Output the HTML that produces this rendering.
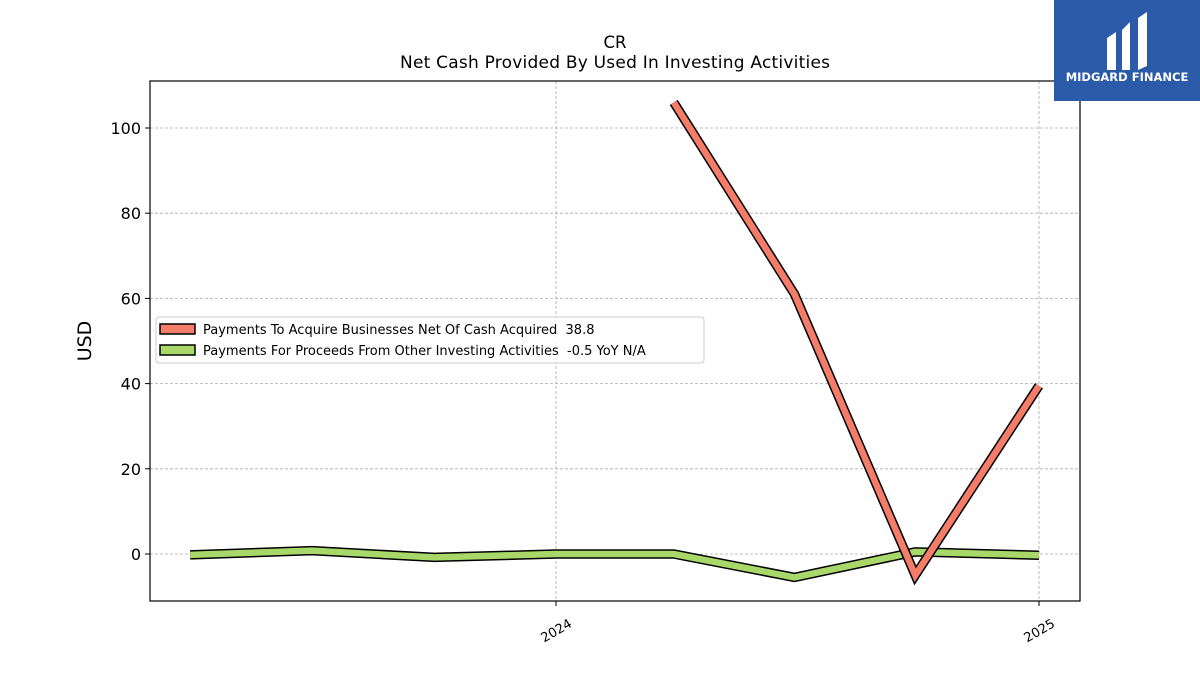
<!DOCTYPE html>
<html><head><meta charset="utf-8"><style>
body{margin:0;background:#fff;width:1200px;height:675px;overflow:hidden;font-family:"Liberation Sans","DejaVu Sans",sans-serif}
</style></head><body>
<svg id="chart" width="1200" height="675" xmlns="http://www.w3.org/2000/svg" font-family="'DejaVu Sans','Liberation Sans',sans-serif">
<text x="615" y="48" text-anchor="middle" font-size="16.5">CR</text>
<text x="615" y="68" text-anchor="middle" font-size="17" textLength="430">Net Cash Provided By Used In Investing Activities</text>
<g id="grid"></g>
<g id="series"></g>
<rect x="150" y="81" width="930" height="520" fill="none" stroke="#000" stroke-width="1.2"/>
<g id="axes"></g>
<text transform="translate(91,341) rotate(-90)" text-anchor="middle" font-size="19">USD</text>
<g>
<rect x="156" y="317" width="548" height="46" rx="3" fill="#fff" fill-opacity="0.85" stroke="#ccc"/>
<rect x="160" y="324" width="35" height="10" fill="#f47c68" stroke="#000" stroke-width="1.5"/>
<text x="203" y="334" font-size="13">Payments To Acquire Businesses Net Of Cash Acquired&#160; 38.8</text>
<rect x="160" y="345" width="35" height="10" fill="#a8d86a" stroke="#000" stroke-width="1.5"/>
<text x="203" y="355" font-size="13">Payments For Proceeds From Other Investing Activities&#160; -0.5 YoY N/A</text>
</g>
<g>
<rect x="1054" y="0" width="146" height="101" fill="#2b5aa8"/>
<path d="M1107 38 L1116 32 L1116 70 L1107 70 Z M1122 30 L1130 22 L1130 70 L1122 70 Z M1138 18 L1147 12 L1147 66 L1138 70 Z" fill="#fff"/>
<text x="1127" y="81" text-anchor="middle" font-size="11.5" font-weight="bold" fill="#fff">MIDGARD FINANCE</text>
</g>
</svg>
<script>
const quarters=[0,1,2,3,4,5,6,7];
const acquireValues=[null,null,null,null,106,61,-5,39.5];
const otherValues=[-0.2,0.8,-0.8,0,0,-5.5,0.5,-0.3];
const yTicks=[0,20,40,60,80,100];
const xTickLabels=["2024","2025"];
const xTickIdx=[3,7];
const NS="http://www.w3.org/2000/svg";
const xs=i=>556+(i-3)*120.75-(i<3?(3-i)*1.2:0)-(i>3&&i<7?3:0);
const ys=v=>554-v*4.26;
function mk(t,a,p){const e=document.createElementNS(NS,t);for(const k in a)e.setAttribute(k,a[k]);p.appendChild(e);return e;}
const grid=document.getElementById('grid'),axes=document.getElementById('axes'),ser=document.getElementById('series');
yTicks.forEach(v=>{
 const l=mk('line',{x1:150,x2:1080,y1:ys(v),y2:ys(v),stroke:'#aaa','stroke-dasharray':'3,2','stroke-width':0.8},grid);
 
 
 mk('line',{x1:145,x2:150,y1:ys(v),y2:ys(v),stroke:'#000'},axes);
 const t=mk('text',{x:141,y:ys(v)+6,'text-anchor':'end','font-size':16},axes);t.textContent=v;
 
 
});
xTickIdx.forEach((q,k)=>{
 const x=556+(q-3)*120.75;
 const l=mk('line',{x1:x,x2:x,y1:81,y2:601,stroke:'#aaa','stroke-dasharray':'3,2','stroke-width':0.8},grid);
 
 
 mk('line',{x1:x,x2:x,y1:601,y2:606,stroke:'#000'},axes);
 const t=mk('text',{x:x,y:635,'text-anchor':'middle','font-size':13,transform:`rotate(-30 ${x} 630)`},axes);t.textContent=xTickLabels[k];
 
 
});
function drawLine(vals,color,name){
 const pts=[];vals.forEach((v,i)=>{if(v!==null)pts.push(xs(quarters[i])+','+ys(v));});
 const d=pts.join(' ');
 const o=mk('polyline',{points:d,fill:'none',stroke:'#000','stroke-width':9.5},ser);
 
 
 const p=mk('polyline',{points:d,fill:'none',stroke:color,'stroke-width':6.5},ser);
 
 
}
drawLine(otherValues,'#a8d86a','line-other-investing');
drawLine(acquireValues,'#f47c68','line-payments-acquire');
</script>
</body></html>
